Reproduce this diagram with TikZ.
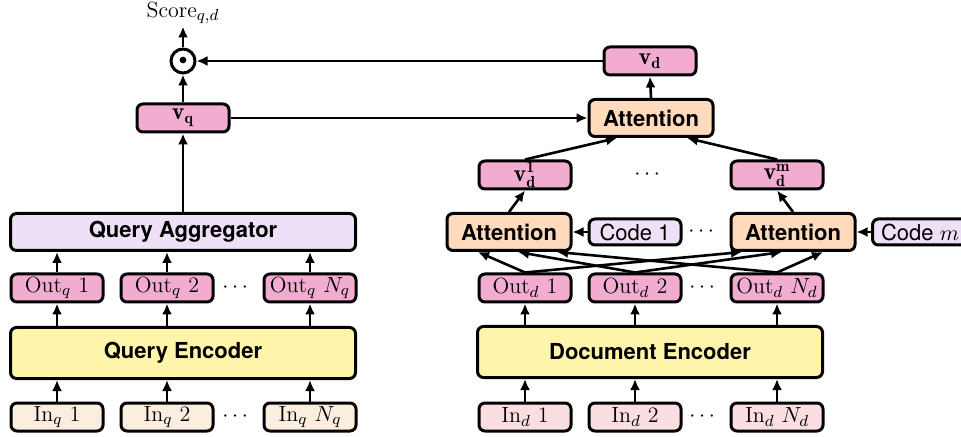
\documentclass[tikz,border=0pt]{standalone}
\usepackage{amsmath}
\usepackage{fontspec}
\setsansfont{TeX Gyre Heros}
\usetikzlibrary{arrows.meta,calc,positioning}
\definecolor{inQ}{RGB}{252,238,222}
\definecolor{inD}{RGB}{251,222,226}
\definecolor{outPink}{RGB}{242,172,208}
\definecolor{codeLilac}{RGB}{238,224,246}
\definecolor{encYellow}{RGB}{255,245,170}
\definecolor{attnPeach}{RGB}{255,218,188}

\begin{document}
\fontsize{11}{13.6}\selectfont
\begin{tikzpicture}[x=0.5pt,y=-0.5pt,
        box/.style={draw,line width=1.5pt,rounded corners=3pt,inner sep=0pt},
        tok/.style={box,minimum width=46pt,minimum height=14pt},
        vec/.style={tok,fill=outPink,font=\large},
        wide/.style={box,minimum width=172.5pt,font=\sffamily\bfseries},
        attn/.style={box,fill=attnPeach,minimum width=62pt,minimum height=18.5pt,font=\sffamily\bfseries},
        codebox/.style={box,fill=codeLilac,minimum width=46pt,minimum height=13pt,font=\sffamily},
        flow/.style={-{Latex[length=5.5pt,width=5pt]},line width=1.3pt}
    ]
        \useasboundingbox (0,0) rectangle (961,437);

        % query side
        \node[tok,fill=inQ] (qin1) at (57,417) {In$_q$ 1};
        \node[tok,fill=inQ] (qin2) at (167,417) {In$_q$ 2};
        \node[tok,fill=inQ] (qin3) at (310,417) {In$_q$ $N_q$};
        \node (qindots) at (237,417) {$\cdots$};
        \node[wide,fill=encYellow,minimum height=25.5pt] (qenc) at (183,353) {Query Encoder};
        \node[tok,fill=outPink] (qout1) at (57,288) {Out$_q$ 1};
        \node[tok,fill=outPink] (qout2) at (167,288) {Out$_q$ 2};
        \node[tok,fill=outPink] (qout3) at (310,288) {Out$_q$ $N_q$};
        \node (qoutdots) at (237,288) {$\cdots$};
        \node[wide,fill=codeLilac,minimum height=18.5pt] (qagg) at (183,232) {Query Aggregator};
        \node[vec] (vq) at (183,118) {$\mathbf{v_q}$};
        \node[circle,draw,line width=1.5pt,minimum size=12pt,inner sep=0pt] (prod) at (183,61) {$\scriptstyle\bullet$};
        \node[inner sep=1pt] (score) at (183,13) {Score$_{q,d}$};

        % document side
        \node[tok,fill=inD] (din1) at (525,417) {In$_d$ 1};
        \node[tok,fill=inD] (din2) at (635,417) {In$_d$ 2};
        \node[tok,fill=inD] (din3) at (777,417) {In$_d$ $N_d$};
        \node (dindots) at (704,417) {$\cdots$};
        \node[wide,fill=encYellow,minimum height=25.5pt] (denc) at (650,352) {Document Encoder};
        \node[tok,fill=outPink] (dout1) at (525,288) {Out$_d$ 1};
        \node[tok,fill=outPink] (dout2) at (635,288) {Out$_d$ 2};
        \node[tok,fill=outPink] (dout3) at (777,288) {Out$_d$ $N_d$};
        \node (doutdots) at (704,288) {$\cdots$};
        \node[attn] (att1) at (509,232) {Attention};
        \node[codebox] (code1) at (635,232) {Code 1};
        \node (attdots) at (703,232) {$\cdots$};
        \node[attn] (att2) at (793,232) {Attention};
        \node[codebox,minimum width=47.5pt] (codem) at (920,232) {Code $m$};
        \node[vec] (vd1) at (525,175) {$\mathbf{v_d^1}$};
        \node (vddots) at (649,175) {$\cdots$};
        \node[vec] (vdm) at (777,175) {$\mathbf{v_d^m}$};
        \node[attn] (att) at (651,118) {Attention};
        \node[vec] (vd) at (650,61) {$\mathbf{v_d}$};

        \foreach \i in {1,2,3} {
            \draw[flow] (qin\i.north) -- (qin\i.north |- qenc.south);
            \draw[flow] (qout\i.south |- qenc.north) -- (qout\i.south);
            \draw[flow] (qout\i.north) -- (qout\i.north |- qagg.south);
            \draw[flow] (din\i.north) -- (din\i.north |- denc.south);
            \draw[flow] (dout\i.south |- denc.north) -- (dout\i.south);
        }

        \draw[flow] (dout1.north) -- ([xshift=-15.5pt]att1.south);
        \draw[flow] (dout2.north) -- ([xshift=4.5pt]att1.south);
        \draw[flow] (dout3.north) -- ([xshift=24pt]att1.south);
        \draw[flow] (dout1.north) -- ([xshift=-25.5pt]att2.south);
        \draw[flow] (dout2.north) -- ([xshift=-5.5pt]att2.south);
        \draw[flow] (dout3.north) -- ([xshift=15pt]att2.south);
        \draw[flow] (code1.west) -- (att1.east);
        \draw[flow] (codem.west) -- (att2.east);
        \draw[flow] (att1.north) -- (vd1.south);
        \draw[flow] (att2.north) -- (vdm.south);
        \draw[flow] (vd1.north) -- ([xshift=-17pt]att.south);
        \draw[flow] (vdm.north) -- ([xshift=18pt]att.south);
        \draw[flow] (att.north) -- (vd.south);

        \draw[flow] (qagg.north) -- (vq.south);
        \draw[flow] (vq.north) -- (prod.south);
        \draw[flow] (prod.north) -- (score.south);
        \draw[flow] (vq.east) -- (vq.east -| att.west);
        \draw[flow] (vd.west) -- (prod.east);
    \end{tikzpicture}
\end{document}
